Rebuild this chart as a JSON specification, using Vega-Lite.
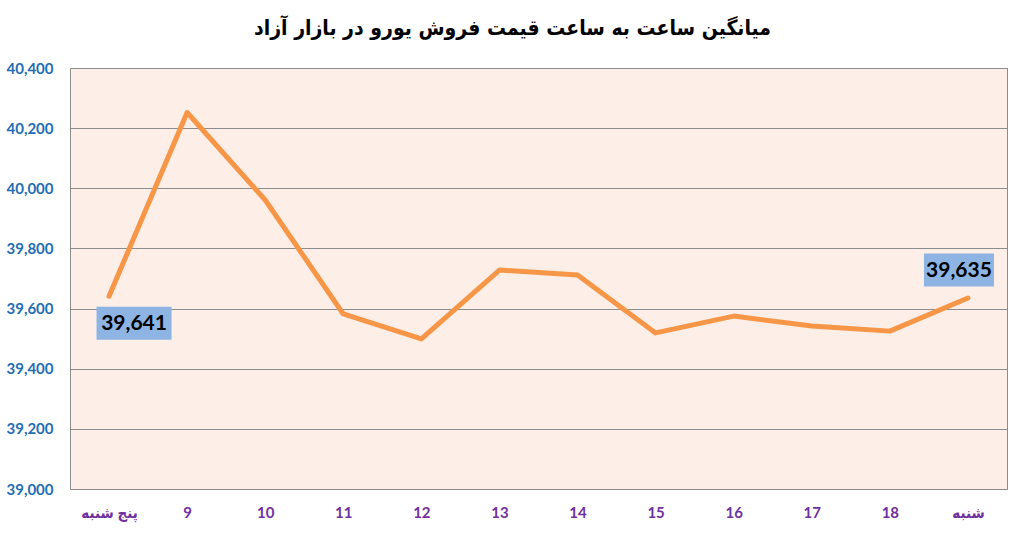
{
  "$schema": "https://vega.github.io/schema/vega-lite/v6.json",
  "width": 937,
  "height": 421,
  "autosize": {"type": "none"},
  "padding": {"left": 70, "top": 68, "right": 13, "bottom": 44},
  "background": "white",
  "title": {
    "text": "میانگین ساعت به ساعت قیمت فروش یورو در بازار آزاد",
    "font": "DejaVu Sans Condensed, DejaVu Sans",
    "fontSize": 21,
    "fontWeight": "bold",
    "color": "#000000",
    "anchor": "middle",
    "dx": -26,
    "offset": 22
  },
  "config": {
    "view": {"fill": "#FDEEE8", "stroke": "#8C8C8C", "strokeWidth": 1}
  },
  "data": {
    "values": [
      {"hour": "پنج شنبه", "price": 39641},
      {"hour": "9", "price": 40252},
      {"hour": "10", "price": 39961},
      {"hour": "11", "price": 39582},
      {"hour": "12", "price": 39499},
      {"hour": "13", "price": 39728},
      {"hour": "14", "price": 39712},
      {"hour": "15", "price": 39519},
      {"hour": "16", "price": 39575},
      {"hour": "17", "price": 39542},
      {"hour": "18", "price": 39525},
      {"hour": "شنبه", "price": 39635}
    ]
  },
  "encoding": {
    "x": {
      "field": "hour",
      "type": "ordinal",
      "sort": null,
      "scale": {"type": "point", "padding": 0.5},
      "axis": {
        "title": null,
        "labelAngle": 0,
        "labelFont": "Lato, DejaVu Sans Condensed",
        "labelFontSize": 15,
        "labelFontWeight": "bold",
        "labelColor": "#7030A0",
        "labelPadding": 16,
        "ticks": false,
        "domain": false,
        "grid": false
      }
    },
    "y": {
      "field": "price",
      "type": "quantitative",
      "scale": {"domain": [39000, 40400], "nice": false, "zero": false},
      "axis": {
        "title": null,
        "values": [39000, 39200, 39400, 39600, 39800, 40000, 40200, 40400],
        "format": ",d",
        "labelFont": "Lato",
        "labelFontSize": 15,
        "labelFontWeight": "bold",
        "labelColor": "#1F6EB5",
        "labelPadding": 17,
        "ticks": false,
        "domain": false,
        "grid": true,
        "gridColor": "#8C8C8C",
        "gridWidth": 1
      }
    }
  },
  "layer": [
    {
      "mark": {"type": "line", "color": "#F79646", "strokeWidth": 5, "strokeCap": "round", "strokeJoin": "round"}
    },
    {
      "transform": [{"filter": "datum.hour == 'پنج شنبه'"}],
      "mark": {"type": "rect", "width": 75, "height": 33, "fill": "#8DB4E2", "xOffset": 25, "yOffset": 27}
    },
    {
      "transform": [{"filter": "datum.hour == 'پنج شنبه'"}],
      "mark": {"type": "text", "font": "Lato", "fontSize": 21, "fontWeight": "bold", "color": "#000000", "dx": 25, "dy": 28, "align": "center", "baseline": "middle"},
      "encoding": {"text": {"field": "price", "type": "quantitative", "format": ","}}
    },
    {
      "transform": [{"filter": "datum.hour == 'شنبه'"}],
      "mark": {"type": "rect", "width": 70, "height": 33, "fill": "#8DB4E2", "xOffset": -9, "yOffset": -28}
    },
    {
      "transform": [{"filter": "datum.hour == 'شنبه'"}],
      "mark": {"type": "text", "font": "Lato", "fontSize": 21, "fontWeight": "bold", "color": "#000000", "dx": -9, "dy": -27, "align": "center", "baseline": "middle"},
      "encoding": {"text": {"field": "price", "type": "quantitative", "format": ","}}
    }
  ]
}
